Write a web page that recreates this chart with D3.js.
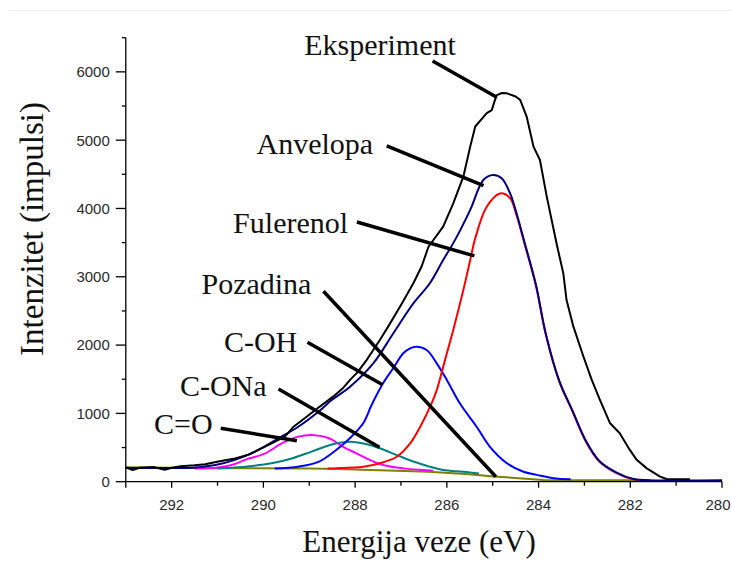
<!DOCTYPE html>
<html>
<head>
<meta charset="utf-8">
<script src="https://cdn.jsdelivr.net/npm/d3@7"></script>
<style>
  html, body { margin: 0; padding: 0; background: #fff; }
  svg { display: block; }
</style>
</head>
<body>
<svg id="chart" width="732" height="568"></svg>
<script>
// ---------------- DATA ----------------
// energies (eV) and intensities (impulsi)
const xTicks = [292, 290, 288, 286, 284, 282, 280];
const yTicks = [0, 1000, 2000, 3000, 4000, 5000, 6000];

const eksperiment = [
  [293.0,210],[292.85,170],[292.7,205],[292.4,215],[292.15,175],[292.0,205],[291.8,225],
  [291.5,240],[291.27,255],[290.98,295],[290.62,340],[290.3,400],[290.11,465],[289.82,560],
  [289.53,660],[289.35,800],[289.1,930],[288.84,1065],[288.48,1245],[288.25,1380],[288.11,1490],
  [287.95,1600],[287.75,1780],[287.46,2075],[287.28,2270],[286.98,2610],[286.73,2905],
  [286.55,3150],[286.40,3440],[286.08,3735],[285.86,4075],[285.64,4465],[285.49,4905],
  [285.38,5200],[285.13,5395],[285.02,5440],[284.95,5590],[284.91,5660],[284.8,5690],
  [284.69,5685],[284.5,5640],[284.40,5590],[284.26,5345],[284.11,4905],[283.97,4710],
  [283.82,4170],[283.60,3465],[283.46,3050],[283.39,2660],[283.24,2270],[283.02,1830],
  [282.84,1490],[282.66,1195],[282.44,855],[282.23,710],[282.01,465],[281.86,320],
  [281.64,195],[281.35,75],[281.21,40],[280.77,35],[280.70,35]
];
const anvelopa = [
  [293.0,200],[292.0,200],[291.56,205],[291.05,245],[290.62,320],[290.11,465],[289.67,635],
  [289.24,805],[288.80,1025],[288.51,1195],[288.11,1390],[287.60,1735],[287.17,2170],
  [286.73,2610],[286.37,2905],[286.08,3245],[285.82,3540],[285.49,3980],[285.20,4420],
  [284.99,4490],[284.80,4440],[284.62,4220],[284.48,3930],[284.30,3490],[284.06,2890],
  [283.84,2160],[283.55,1480],[283.26,1040],[282.97,600],[282.68,307],[282.31,138],
  [281.93,40],[281.57,22],[280.0,20]
];
const fulerenol = [
  [288.6,195],[288.40,198],[287.82,220],[287.46,270],[287.09,365],[286.80,560],[286.58,805],
  [286.33,1150],[286.22,1340],[286.04,1780],[285.86,2220],[285.64,2805],[285.49,3245],
  [285.39,3540],[285.13,4025],[284.84,4220],[284.62,4150],[284.48,3900],[284.30,3470],
  [284.06,2880],[283.84,2150],[283.55,1470],[283.26,1030],[282.97,590],[282.68,300],
  [282.31,130],[281.93,35],[281.6,20]
];
const cOH = [
  [289.75,195],[289.24,220],[288.80,290],[288.44,450],[288.11,640],[287.82,860],
  [287.64,1123],[287.39,1440],[287.17,1660],[286.95,1880],[286.80,1953],[286.66,1975],
  [286.44,1928],[286.22,1733],[286.0,1489],[285.71,1140],[285.35,805],[285.06,510],
  [284.69,270],[284.33,145],[284.04,100],[283.68,50],[283.3,35]
];
const cONa = [
  [291.0,195],[290.69,205],[290.25,230],[289.82,270],[289.38,340],[288.95,440],[288.51,545],
  [288.11,585],[287.82,560],[287.46,490],[287.09,390],[286.73,295],[286.37,220],[286.08,170],
  [285.64,145],[285.3,120]
];
const cO = [
  [291.5,195],[291.2,198],[290.91,215],[290.62,260],[290.40,320],[289.96,415],[289.60,560],
  [289.24,660],[288.95,685],[288.58,640],[288.26,510],[287.97,415],[287.68,320],[287.39,245],
  [286.95,195],[286.51,170],[286.3,160]
];
const pozadina = [
  [293.0,210],[291.5,200],[289.0,192],[288.4,185],[287.1,160],[286.4,145],[285.6,113],
  [284.9,73],[284.2,40],[283.9,25],[281.7,22]
];

// annotation labels with leader lines (in data units: eV, impulsi)
const labels = ["Eksperiment","Anvelopa","Fulerenol","Pozadina","C-OH","C-ONa","C=O"];
const labelAt = [[289.11,6247],[290.15,4798],[290.66,3637],[291.35,2748],[290.86,1895],[291.82,1259],[292.385,698]];
const leaderFrom = [[286.31,6160],[287.31,4915],[287.96,3802],[288.69,2788],[289.04,2041],[289.67,1357],[290.93,782]];
const leaderTo = [[284.93,5637],[285.20,4334],[285.40,3305],[284.93,73],[287.40,1420],[287.47,504],[289.27,600]];

// ---------------- CHART ----------------
const W = 732;
const svg = d3.select("#chart");
const x = d3.scaleLinear().domain([293, 280]).range([125.8, 722]);
const y = d3.scaleLinear().domain([0, 6500]).range([481.7, 37.7]);

// faint top rule
svg.append("line").attr("x1", 10).attr("x2", W).attr("y1", 10.5).attr("y2", 10.5)
  .attr("stroke", "#f0f0f0").attr("stroke-width", 1);

const line = d3.line().x(d => x(d[0])).y(d => y(d[1])).curve(d3.curveLinear);
const smooth = d3.line().x(d => x(d[0])).y(d => y(d[1])).curve(d3.curveCatmullRom.alpha(0.5));

const series = [
  {data: pozadina, color: "#808000", gen: line},
  {data: cO, color: "#ff00ff", gen: smooth},
  {data: cONa, color: "#008080", gen: smooth},
  {data: cOH, color: "#0000ff", gen: smooth},
  {data: fulerenol, color: "#ff0000", gen: smooth},
  {data: anvelopa, color: "#000080", gen: smooth},
  {data: eksperiment, color: "#000000", gen: line}
];
const g = svg.append("g");
series.forEach(s => {
  g.append("path").attr("d", s.gen(s.data)).attr("fill", "none")
    .attr("stroke", s.color).attr("stroke-width", 2).attr("stroke-linejoin", "round");
});

// axes
const gx = svg.append("g").attr("transform", `translate(0,${y(0)})`);
gx.append("line").attr("x1", x(293)).attr("x2", x(280)).attr("stroke", "#000").attr("stroke-width", 1.3);
gx.selectAll(".t").data(d3.range(280, 294, 1)).join("line")
  .attr("x1", d => x(d)).attr("x2", d => x(d)).attr("y1", 0)
  .attr("y2", d => xTicks.includes(d) || d === 293 ? 6 : 4)
  .attr("stroke", "#000").attr("stroke-width", 1.3);
gx.selectAll(".lbl").data(xTicks).join("text")
  .attr("x", d => Math.min(x(d), W - 14)).attr("y", 28).attr("text-anchor", "middle")
  .attr("font-family", "Liberation Sans, Arial, sans-serif").attr("font-size", 15)
  .attr("fill", "#2a2a2a").text(d => d);

const gy = svg.append("g").attr("transform", `translate(${x(293)},0)`);
gy.append("line").attr("y1", y(0)).attr("y2", y(6500)).attr("stroke", "#000").attr("stroke-width", 1.3);
gy.selectAll(".t").data(d3.range(0, 6501, 500)).join("line")
  .attr("y1", d => y(d)).attr("y2", d => y(d)).attr("x1", 0)
  .attr("x2", d => d % 1000 === 0 ? -10 : -4)
  .attr("stroke", "#000").attr("stroke-width", 1.3);
gy.selectAll(".lbl").data(yTicks).join("text")
  .attr("x", -16).attr("y", d => y(d)).attr("dy", "0.36em").attr("text-anchor", "end")
  .attr("font-family", "Liberation Sans, Arial, sans-serif").attr("font-size", 15)
  .attr("fill", "#2a2a2a").text(d => d);

// axis titles
svg.append("text").attr("x", 419).attr("y", 552).attr("text-anchor", "middle")
  .attr("font-family", "Liberation Serif, Times New Roman, serif").attr("font-size", 31)
  .attr("fill", "#111").text("Energija veze (eV)");
svg.append("text").attr("transform", "translate(43,229) rotate(-90)").attr("text-anchor", "middle")
  .attr("font-family", "Liberation Serif, Times New Roman, serif").attr("font-size", 33)
  .attr("fill", "#111").text("Intenzitet (impulsi)");

// annotations
const ga = svg.append("g");
labels.forEach((t, i) => {
  ga.append("line")
    .attr("x1", x(leaderFrom[i][0])).attr("y1", y(leaderFrom[i][1]))
    .attr("x2", x(leaderTo[i][0])).attr("y2", y(leaderTo[i][1]))
    .attr("stroke", "#000").attr("stroke-width", 3.5);
  ga.append("text").attr("x", x(labelAt[i][0])).attr("y", y(labelAt[i][1]))
    .attr("font-family", "Liberation Serif, Times New Roman, serif").attr("font-size", 30)
    .attr("fill", "#111").text(t);
});
</script>
</body>
</html>
